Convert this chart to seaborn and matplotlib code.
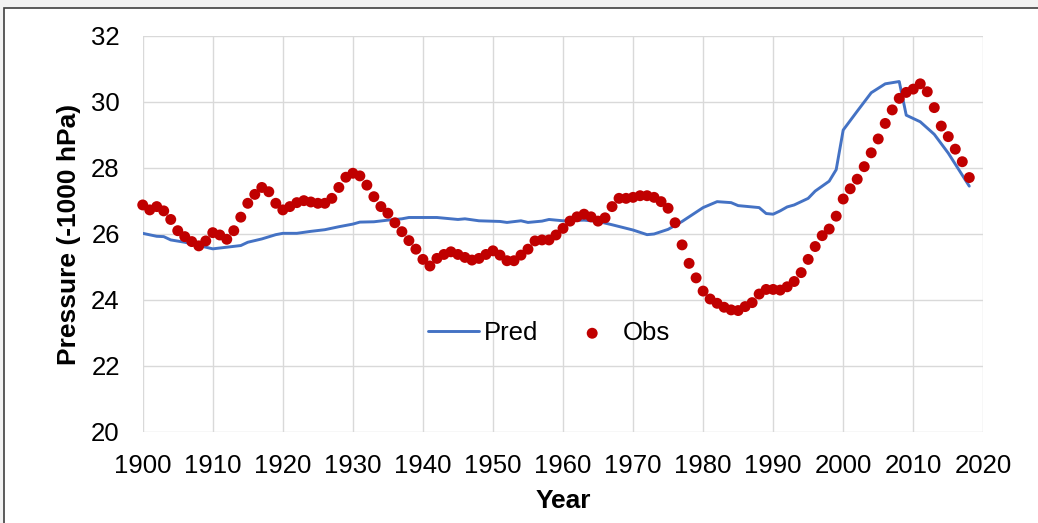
import matplotlib
matplotlib.use("Agg")
import matplotlib.pyplot as plt
import seaborn as sns
import pandas as pd
from matplotlib.patches import Rectangle

# observed annual pressure (-1000 hPa), 1900-2018
obs_years = list(range(1900, 2019))
obs_vals = [
    26.88, 26.73, 26.83, 26.70, 26.44, 26.10, 25.92, 25.77, 25.64, 25.79,  # 1900s
    26.04, 25.97, 25.84, 26.10, 26.51, 26.93, 27.20, 27.41, 27.28, 26.93,  # 1910s
    26.73, 26.83, 26.95, 27.01, 26.97, 26.93, 26.93, 27.08, 27.41, 27.72,  # 1920s
    27.84, 27.76, 27.48, 27.13, 26.83, 26.63, 26.34, 26.07, 25.80, 25.54,  # 1930s
    25.23, 25.03, 25.26, 25.38, 25.46, 25.38, 25.29, 25.21, 25.26, 25.38,  # 1940s
    25.49, 25.36, 25.19, 25.19, 25.36, 25.54, 25.79, 25.82, 25.82, 25.97,  # 1950s
    26.17, 26.39, 26.52, 26.60, 26.52, 26.39, 26.49, 26.83, 27.08, 27.08,  # 1960s
    27.11, 27.16, 27.16, 27.11, 26.98, 26.78, 26.34, 25.67, 25.11, 24.67,  # 1970s
    24.27, 24.03, 23.90, 23.78, 23.70, 23.68, 23.80, 23.92, 24.18, 24.32,  # 1980s
    24.32, 24.30, 24.40, 24.56, 24.83, 25.23, 25.62, 25.95, 26.15, 26.54,  # 1990s
    27.06, 27.37, 27.66, 28.04, 28.46, 28.88, 29.35, 29.76, 30.11, 30.29,  # 2000s
    30.39, 30.55, 30.31, 29.83, 29.27, 28.95, 28.57, 28.19, 27.71,         # 2010s
]

# predicted series (read at the visible vertices)
pred_years = [1900, 1902, 1903, 1904, 1906, 1908, 1910, 1912, 1914, 1915,
              1917, 1919, 1920, 1922, 1924, 1926, 1928, 1930, 1931, 1933,
              1935, 1937, 1938, 1942, 1945, 1946, 1948, 1951, 1952, 1954,
              1955, 1957, 1958, 1960, 1963, 1965, 1967, 1970, 1972, 1973,
              1975, 1977, 1978, 1980, 1982, 1984, 1985, 1988, 1989, 1990,
              1991, 1992, 1993, 1995, 1996, 1998, 1999, 2000, 2002, 2004,
              2006, 2008, 2009, 2011, 2013, 2015, 2018]
pred_vals = [26.02, 25.93, 25.92, 25.82, 25.75, 25.65, 25.55, 25.60, 25.65, 25.75,
             25.85, 25.98, 26.02, 26.02, 26.08, 26.13, 26.22, 26.30, 26.36, 26.37,
             26.42, 26.46, 26.50, 26.50, 26.44, 26.46, 26.40, 26.38, 26.35, 26.40,
             26.35, 26.39, 26.44, 26.40, 26.42, 26.38, 26.28, 26.12, 25.98, 26.00,
             26.14, 26.38, 26.52, 26.80, 26.98, 26.95, 26.86, 26.80, 26.62, 26.60,
             26.70, 26.82, 26.88, 27.08, 27.30, 27.60, 27.95, 29.15, 29.72, 30.28,
             30.55, 30.62, 29.60, 29.40, 29.02, 28.45, 27.45]

obs = pd.DataFrame({"Year": obs_years, "Pressure": obs_vals})
pred = pd.DataFrame({"Year": pred_years, "Pressure": pred_vals})

sns.set_style("white")
plt.rcParams["font.family"] = ["Liberation Sans", "DejaVu Sans"]
plt.rcParams["text.color"] = "black"
plt.rcParams["axes.labelcolor"] = "black"

fig = plt.figure(figsize=(10.38, 5.23), dpi=100)
fig.patch.set_facecolor("#f2f2f2")
# white chart area with a dark frame (Excel-like screenshot)
frame = Rectangle((4 / 1038, -0.1), 1.2, 1.1 - 8 / 523,
                  transform=fig.transFigure, facecolor="white",
                  edgecolor="#404040", linewidth=1.2, zorder=-5)
fig.patches.append(frame)

ax = fig.add_axes([0.1375, 0.174, 0.8098, 0.7572])
ax.set_zorder(5)
ax.set_facecolor("white")

sns.lineplot(data=pred, x="Year", y="Pressure", color="#4472C4", linewidth=2.1,
             label="Pred", ax=ax, zorder=3)
sns.scatterplot(data=obs, x="Year", y="Pressure", color="#C00000", s=62,
                edgecolor="none", label="Obs", ax=ax, zorder=4, clip_on=False)

ax.set_xlim(1900, 2020)
ax.set_ylim(20, 32)
ax.set_xticks(range(1900, 2021, 10))
ax.set_yticks(range(20, 33, 2))
ax.grid(True, color="#d9d9d9", linewidth=1.0)
ax.set_axisbelow(True)
for sp in ax.spines.values():
    sp.set_visible(False)
ax.tick_params(axis="both", length=0, labelsize=18.5, labelcolor="black")
ax.tick_params(axis="x", pad=16)
ax.tick_params(axis="y", pad=16.5)

ax.set_xlabel("Year", fontsize=19, fontweight="bold", labelpad=8)
ax.set_ylabel("Pressure (-1000 hPa)", fontsize=19, fontweight="bold", labelpad=7)

ax.legend(loc="center", bbox_to_anchor=(0.4834, 0.25), ncol=2, frameon=False,
          fontsize=18.5, handlelength=1.95, columnspacing=1.13, handletextpad=0.2)

fig.savefig("out.png", dpi=100, facecolor=fig.get_facecolor())
